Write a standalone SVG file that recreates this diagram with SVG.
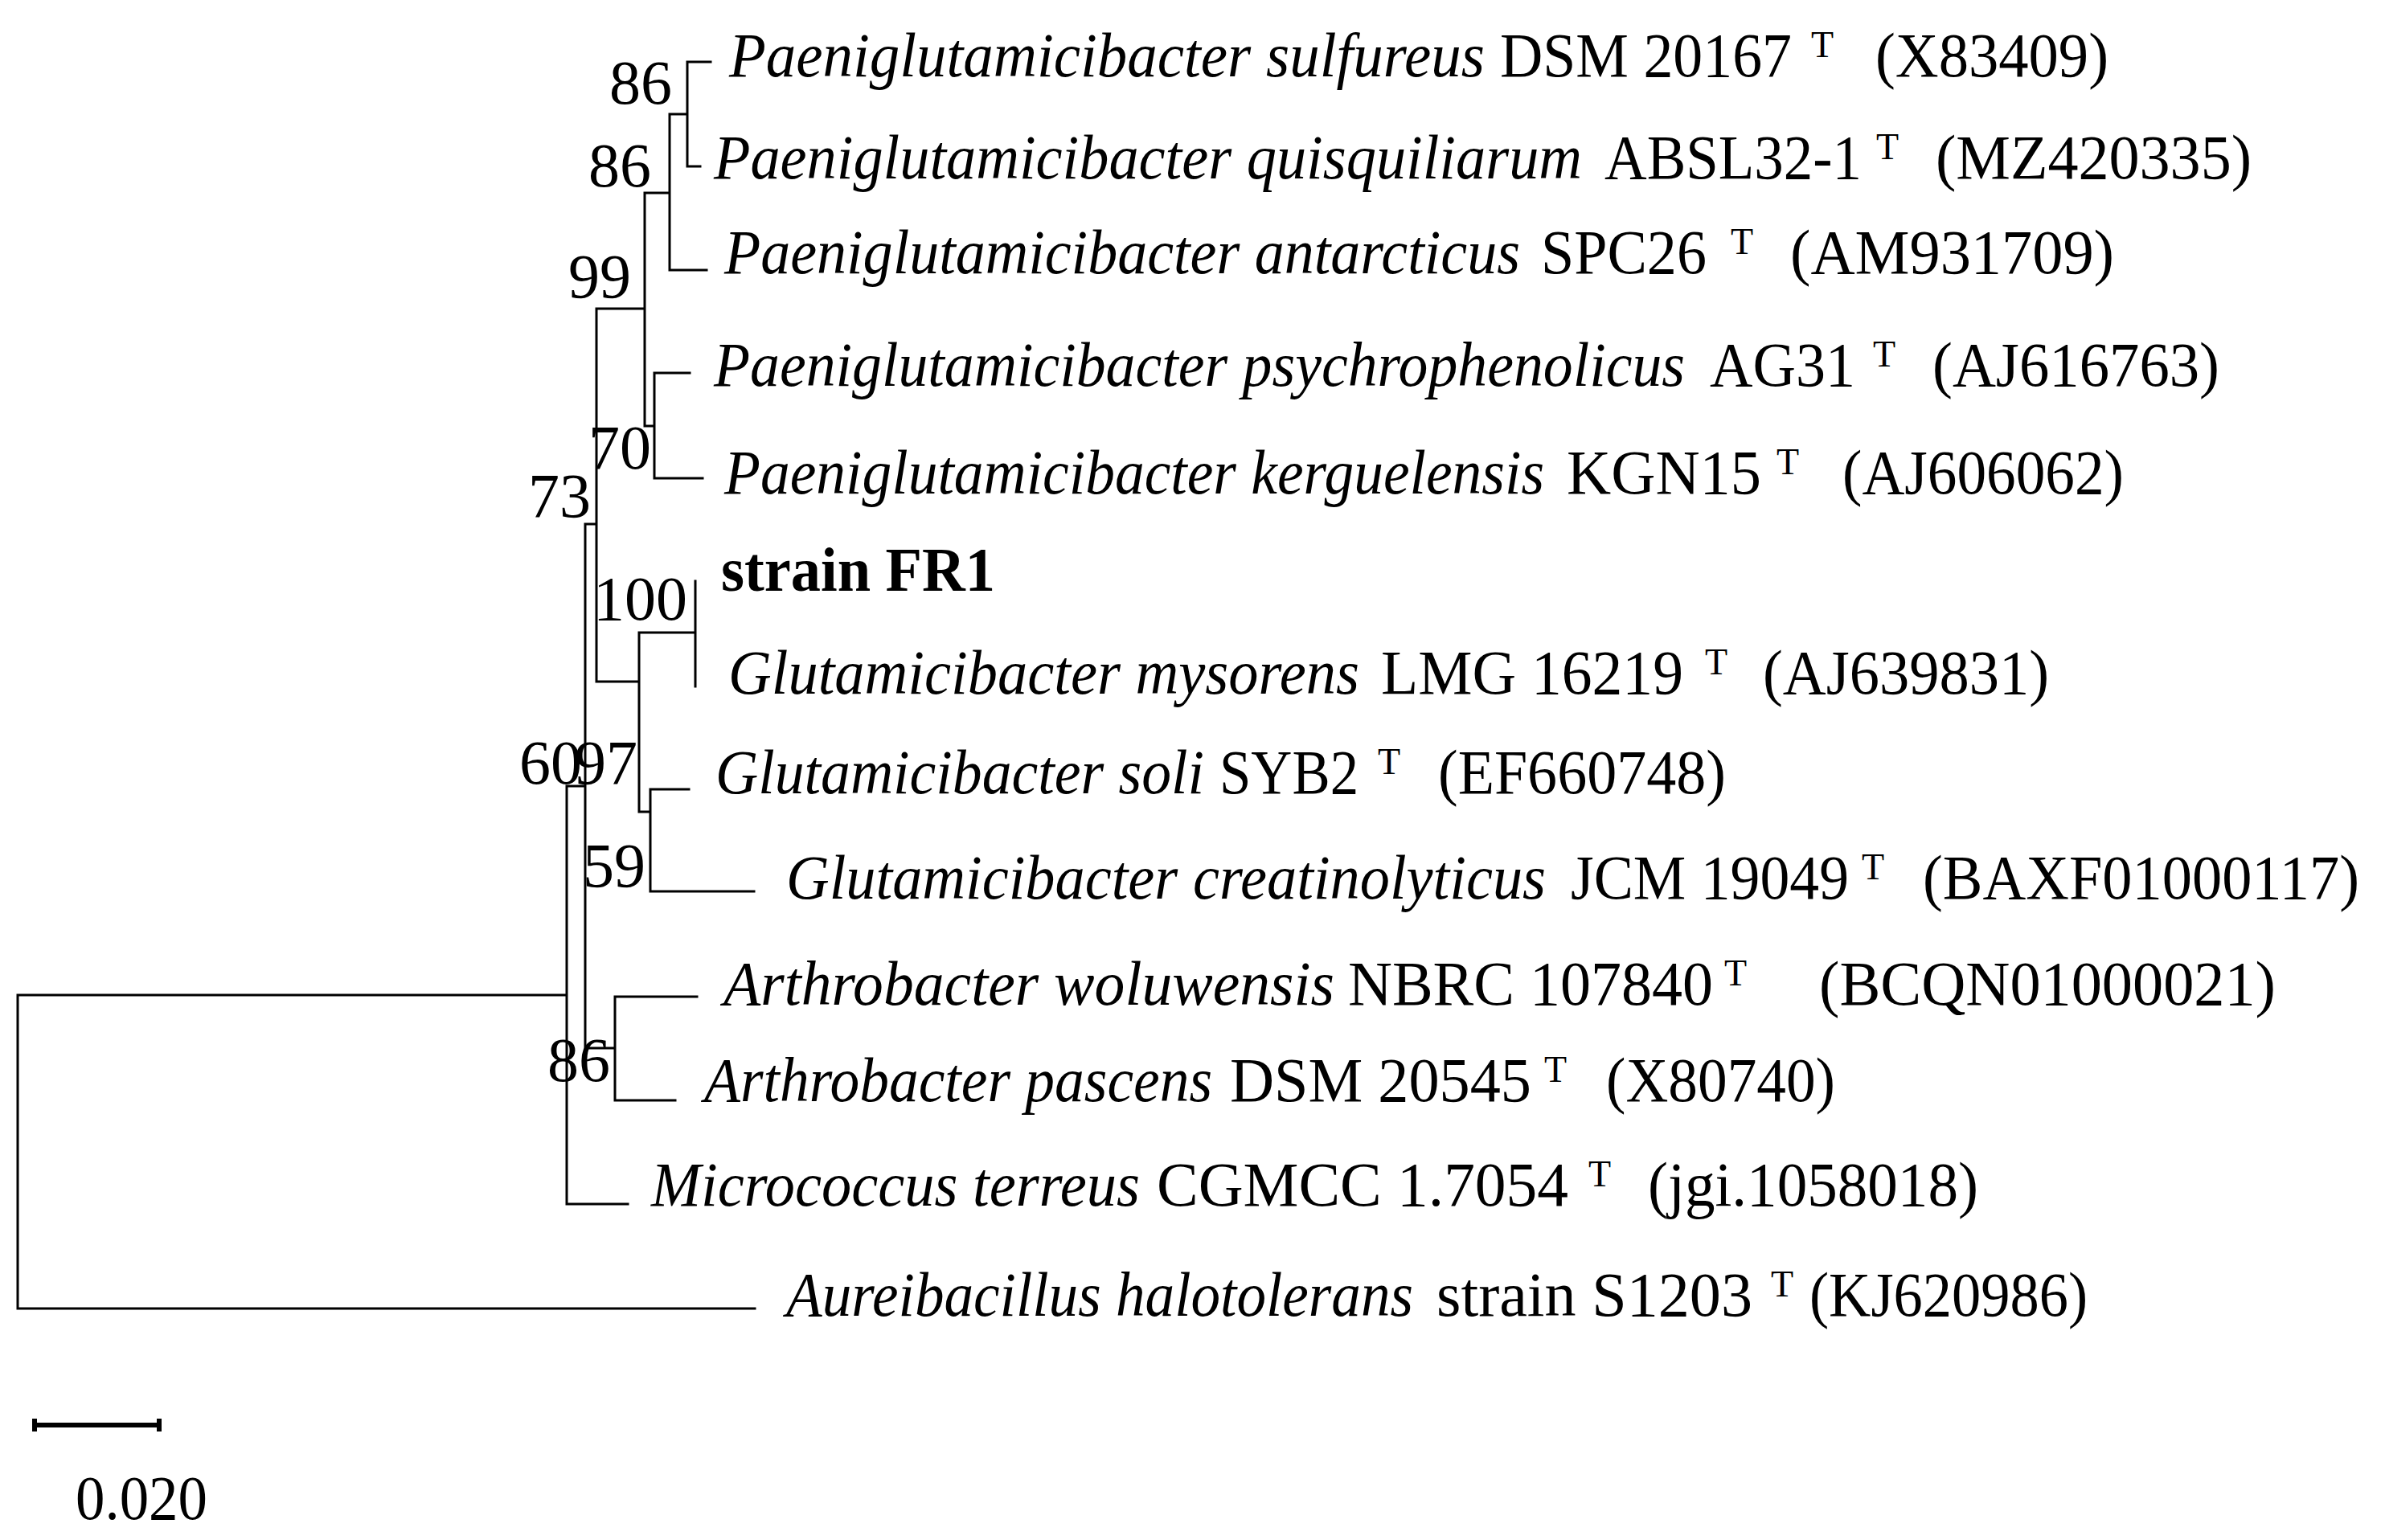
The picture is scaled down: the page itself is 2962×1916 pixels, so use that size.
<svg xmlns="http://www.w3.org/2000/svg" width="2962" height="1916" viewBox="0 0 2962 1916">
<style>
text{font-family:"Liberation Serif","Times New Roman",serif;font-size:78px;fill:#000}
.i{font-style:italic}
.b{font-weight:bold}
.t{font-size:46px}
.bs{text-anchor:end}
.br{stroke:#000;stroke-width:3;fill:none;stroke-linecap:square}
</style>
<rect width="2962" height="1916" fill="#fff"/>
<g id="connectors" class="br">
<path d="M884,77H855V207H871M855,142H833V336H879M833,240H802V530H814M858,464H814V595H874M802,384H742V848H795M742,652H728V1304H765M865,723V854M865,787H795V1010H809M857,982H809V1109H938M867,1240H765V1369H840M728,978H705V1498H781M705,1238H22V1628H939"/>
</g>
<g id="scalebar">
<path d="M43,1773H198M43,1765V1781M198,1765V1781" stroke="#000" stroke-width="6" fill="none"/>
<text x="94" y="1890" textLength="164" lengthAdjust="spacingAndGlyphs">0.020</text>
</g>
<g id="bootstrap">
<text class="bs" x="836" y="129">86</text>
<text class="bs" x="810" y="232">86</text>
<text class="bs" x="785" y="370">99</text>
<text class="bs" x="810" y="583">70</text>
<text class="bs" x="735" y="643">73</text>
<text class="bs" x="855" y="771">100</text>
<text class="bs" x="724" y="975">60</text>
<text class="bs" x="793" y="975">97</text>
<text class="bs" x="803" y="1103">59</text>
<text class="bs" x="759" y="1345">86</text>
</g>
<g id="taxon1"><text class="i" x="907" y="95" textLength="940" lengthAdjust="spacingAndGlyphs">Paeniglutamicibacter sulfureus</text><text x="1866" y="95" textLength="363" lengthAdjust="spacingAndGlyphs">DSM 20167</text><text class="t" x="2253" y="71">T</text><text x="2333" y="95" textLength="290" lengthAdjust="spacingAndGlyphs">(X83409)</text></g>
<g id="taxon2"><text class="i" x="888" y="222" textLength="1080" lengthAdjust="spacingAndGlyphs">Paeniglutamicibacter quisquiliarum</text><text x="1996" y="222" textLength="320" lengthAdjust="spacingAndGlyphs">ABSL32-1</text><text class="t" x="2334" y="198">T</text><text x="2408" y="222" textLength="393" lengthAdjust="spacingAndGlyphs">(MZ420335)</text></g>
<g id="taxon3"><text class="i" x="901" y="340" textLength="990" lengthAdjust="spacingAndGlyphs">Paeniglutamicibacter antarcticus</text><text x="1917" y="340" textLength="206" lengthAdjust="spacingAndGlyphs">SPC26</text><text class="t" x="2153" y="316">T</text><text x="2227" y="340" textLength="403" lengthAdjust="spacingAndGlyphs">(AM931709)</text></g>
<g id="taxon4"><text class="i" x="888" y="480" textLength="1208" lengthAdjust="spacingAndGlyphs">Paeniglutamicibacter psychrophenolicus</text><text x="2127" y="480" textLength="181" lengthAdjust="spacingAndGlyphs">AG31</text><text class="t" x="2330" y="456">T</text><text x="2404" y="480" textLength="357" lengthAdjust="spacingAndGlyphs">(AJ616763)</text></g>
<g id="taxon5"><text class="i" x="901" y="614" textLength="1020" lengthAdjust="spacingAndGlyphs">Paeniglutamicibacter kerguelensis</text><text x="1949" y="614" textLength="242" lengthAdjust="spacingAndGlyphs">KGN15</text><text class="t" x="2210" y="590">T</text><text x="2292" y="614" textLength="350" lengthAdjust="spacingAndGlyphs">(AJ606062)</text></g>
<g id="taxon6"><text class="b" x="897" y="735" textLength="341" lengthAdjust="spacingAndGlyphs">strain FR1</text></g>
<g id="taxon7"><text class="i" x="906" y="863" textLength="785" lengthAdjust="spacingAndGlyphs">Glutamicibacter mysorens</text><text x="1718" y="863" textLength="376" lengthAdjust="spacingAndGlyphs">LMG 16219</text><text class="t" x="2121" y="839">T</text><text x="2193" y="863" textLength="356" lengthAdjust="spacingAndGlyphs">(AJ639831)</text></g>
<g id="taxon8"><text class="i" x="890" y="987" textLength="608" lengthAdjust="spacingAndGlyphs">Glutamicibacter soli</text><text x="1517" y="987" textLength="173" lengthAdjust="spacingAndGlyphs">SYB2</text><text class="t" x="1714" y="963">T</text><text x="1789" y="987" textLength="358" lengthAdjust="spacingAndGlyphs">(EF660748)</text></g>
<g id="taxon9"><text class="i" x="978" y="1118" textLength="945" lengthAdjust="spacingAndGlyphs">Glutamicibacter creatinolyticus</text><text x="1954" y="1118" textLength="346" lengthAdjust="spacingAndGlyphs">JCM 19049</text><text class="t" x="2316" y="1094">T</text><text x="2392" y="1118" textLength="543" lengthAdjust="spacingAndGlyphs">(BAXF01000117)</text></g>
<g id="taxon10"><text class="i" x="900" y="1250" textLength="760" lengthAdjust="spacingAndGlyphs">Arthrobacter woluwensis</text><text x="1677" y="1250" textLength="454" lengthAdjust="spacingAndGlyphs">NBRC 107840</text><text class="t" x="2145" y="1226">T</text><text x="2263" y="1250" textLength="568" lengthAdjust="spacingAndGlyphs">(BCQN01000021)</text></g>
<g id="taxon11"><text class="i" x="876" y="1370" textLength="632" lengthAdjust="spacingAndGlyphs">Arthrobacter pascens</text><text x="1530" y="1370" textLength="375" lengthAdjust="spacingAndGlyphs">DSM 20545</text><text class="t" x="1921" y="1346">T</text><text x="1998" y="1370" textLength="285" lengthAdjust="spacingAndGlyphs">(X80740)</text></g>
<g id="taxon12"><text class="i" x="810" y="1500" textLength="608" lengthAdjust="spacingAndGlyphs">Micrococcus terreus</text><text x="1439" y="1500" textLength="512" lengthAdjust="spacingAndGlyphs">CGMCC 1.7054</text><text class="t" x="1976" y="1476">T</text><text x="2050" y="1500" textLength="411" lengthAdjust="spacingAndGlyphs">(jgi.1058018)</text></g>
<g id="taxon13"><text class="i" x="978" y="1637" textLength="780" lengthAdjust="spacingAndGlyphs">Aureibacillus halotolerans</text><text x="1787" y="1637" textLength="393" lengthAdjust="spacingAndGlyphs">strain S1203</text><text class="t" x="2203" y="1613">T</text><text x="2251" y="1637" textLength="346" lengthAdjust="spacingAndGlyphs">(KJ620986)</text></g>
</svg>
